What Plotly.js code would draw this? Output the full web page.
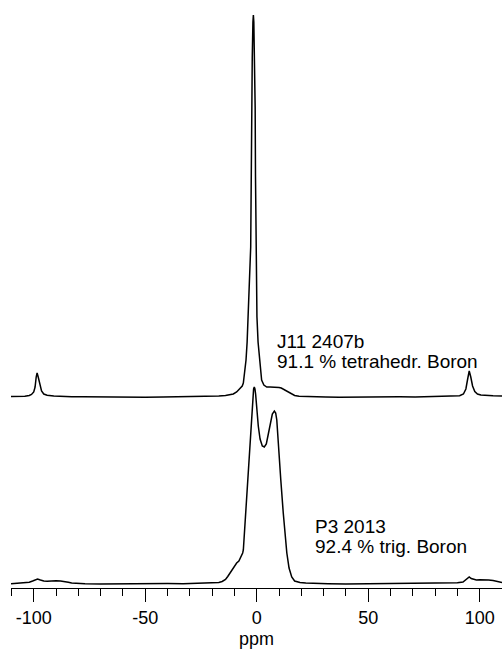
<!DOCTYPE html>
<html>
<head>
<meta charset="utf-8">
<script src="https://cdn.plot.ly/plotly-3.0.1.min.js"></script>
<style>
html,body{margin:0;padding:0;background:#fff;}
#chart{width:502px;height:649px;}
</style>
</head>
<body>
<div id="chart"></div>
<script>
// Top spectrum: J11 2407b  [ppm, intensity]
const topSpectrum = [
  [-110.2,0.5],[-107,0.3],[-104,0.8],[-102,1.5],[-101,2.5],[-100,5],[-99.4,10],[-98.9,20],[-98.5,24],[-98,20],
  [-97.3,12],[-96.5,6],[-95.5,3],[-94,1.8],[-91,1],[-87,0.5],[-83,0.3],[-78,0.2],[-72,0],[-65,-0.2],
  [-58,0],[-50,-0.3],[-42,0],[-35,0.2],[-28,0.3],[-22,0.5],[-17,1],[-14,1.5],[-12,2],[-10.5,3],
  [-9,5],[-7.5,8],[-6.5,11],[-6,14],[-5.3,25],[-4.8,37],[-4.3,55],[-3.8,80],[-3.2,110],[-2.7,150],
  [-2.45,220],[-2.3,290],[-2.0,340],[-1.7,375],[-1.5,382],[-1.3,375],[-1.0,340],[-0.7,290],[-0.55,220],[-0.3,150],
  [0.1,80],[0.6,55],[1.2,37],[2.2,17],[3.2,12],[4.5,10],[6,10],[7.3,10],[8.5,10],[10,9.5],
  [11,9],[12.5,7],[14,5],[15.5,3],[17,1.5],[19,0.8],[22,0.5],[26,0.3],[31,0],[37,-0.2],
  [43,0],[50,-0.2],[57,0],[64,0.2],[71,0],[78,0.3],[84,0.5],[88,0.8],[91,1.3],[92.7,3],
  [93.8,8],[94.6,18],[95.3,26],[96,20],[96.8,11],[97.8,5.5],[99,3],[100.5,2],[103,1.5],[106,1.2],[110,1]
];
// Bottom spectrum: P3 2013  [ppm, intensity]
const bottomSpectrum = [
  [-110.2,0.3],[-107,0.8],[-104,1],[-102,1.8],[-100.5,3],[-99.3,4.5],[-98.3,5],[-97,4],[-95.5,3],[-94,2.8],
  [-92,3.2],[-90,3.3],[-88,3],[-86,2.6],[-84.5,1.8],[-83,1],[-81,0.5],[-77,0.2],[-70,0],[-62,0.3],
  [-55,0],[-48,0.2],[-40,0.5],[-33,0.3],[-27,0.8],[-22,1],[-19,1.2],[-17,1.5],[-15.5,2.5],[-14,4.5],
  [-13,7.5],[-12,11],[-11,15],[-10,18],[-9,21],[-8,23],[-7,27],[-6.3,31],[-6,34],[-5,70],
  [-4,107],[-3,143],[-2.4,168],[-2,182],[-1.7,190],[-1.4,195],[-1.1,197],[-0.8,195],[-0.5,190],[0,175],
  [0.7,158],[1.5,145],[2.5,138],[3.4,137],[4.3,140],[5.2,150],[6,160],[7,170],[7.9,173],[8.5,171],
  [9,164],[9.7,137],[10.8,104],[11.9,71],[12.7,50],[13.5,31],[14.5,16],[15.7,7],[17,3],[19.4,1.5],
  [22,1],[26,0.5],[32,0.3],[40,0],[48,0.2],[56,0],[64,0.3],[72,0.2],[80,0.5],[86,0.8],
  [90,1.2],[92.5,2],[93.6,4],[94.5,6.5],[95.3,7],[96.2,5.5],[97.2,4.5],[98.5,4],[100,4.2],[102,4.3],
  [104,4],[106,3.5],[108,2.5],[110,1.5]
];
const xTickVals = [-100, -50, 0, 50, 100];
const xTickText = ['-100', '-50', '0', '50', '100'];
const labels = {
  topName: 'J11 2407b', topNote: '91.1 % tetrahedr. Boron',
  bottomName: 'P3 2013', bottomNote: '92.4 % trig. Boron',
  xTitle: 'ppm'
};

const topOffset = 191, bottomOffset = 4;
const FONT = 'Liberation Sans, Arial, Helvetica, sans-serif';

const traces = [
  {x: topSpectrum.map(p => p[0]), y: topSpectrum.map(p => p[1] + topOffset),
   mode: 'lines', line: {color: '#000', width: 1.5}, hoverinfo: 'skip'},
  {x: bottomSpectrum.map(p => p[0]), y: bottomSpectrum.map(p => p[1] + bottomOffset),
   mode: 'lines', line: {color: '#000', width: 1.5}, hoverinfo: 'skip'}
];

const ann = (text, x, y) => ({text, x, y, xref: 'x', yref: 'y', xanchor: 'left', yanchor: 'middle',
  showarrow: false, borderpad: 0, font: {family: FONT, size: 19, color: '#000'}});

const layout = {
  width: 502, height: 649,
  margin: {l: 11, r: 0, t: 0, b: 61},
  paper_bgcolor: '#fff', plot_bgcolor: '#fff',
  showlegend: false,
  font: {family: FONT, color: '#000'},
  xaxis: {
    range: [-110.2, 110], showgrid: false, zeroline: false,
    showline: true, linecolor: '#000', linewidth: 1,
    ticks: 'outside', ticklen: 13, tickwidth: 1, tickcolor: '#000',
    tickvals: xTickVals, ticktext: xTickText,
    tickfont: {family: FONT, size: 18, color: '#000'},
    minor: {dtick: 10, tick0: 0, ticks: 'outside', ticklen: 7, tickwidth: 1, tickcolor: '#000', showgrid: false},
    title: {text: labels.xTitle, font: {family: FONT, size: 18, color: '#000'}, standoff: 11},
    fixedrange: true
  },
  yaxis: {range: [0, 588], visible: false, fixedrange: true},
  annotations: [
    ann(labels.topName, 8.6, 246.5),
    ann(labels.topNote, 8.6, 226.5),
    ann(labels.bottomName, 25.6, 62),
    ann(labels.bottomNote, 25.6, 42)
  ]
};

Plotly.newPlot('chart', traces, layout, {staticPlot: true, displayModeBar: false});
</script>
</body>
</html>
